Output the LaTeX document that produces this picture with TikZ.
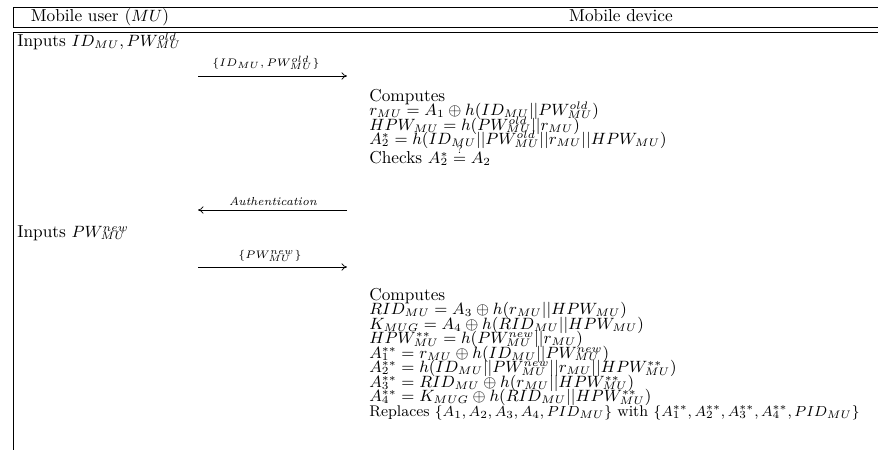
\documentclass[tikz,border=0pt]{standalone}
\usepackage{amsmath}
\usetikzlibrary{positioning,arrows.meta}
\DeclareMathSizes{9.5}{9.5}{6.3}{5}
\DeclareMathSizes{8.5}{8.5}{5.8}{5}
% keep sub- and superscripts close to the baseline
\newcommand\tightscripts{%
  \fontdimen14\textfont2=0.27\fontdimen6\textfont2
  \fontdimen15\textfont2=0.24\fontdimen6\textfont2
  \fontdimen16\textfont2=0.14\fontdimen6\textfont2
  \fontdimen17\textfont2=0.18\fontdimen6\textfont2
  \fontdimen8\textfont3=0.015\fontdimen6\textfont2}
\AtBeginDocument{\everymath\expandafter{\the\everymath\tightscripts}}

\begin{document}
\begin{tikzpicture}
  [
    x=0.55pt, y=-0.55pt,
    font=\fontsize{9.5}{11}\selectfont,
    Head/.style={anchor=base, inner sep=0pt},
    Line/.style={anchor=base west, inner sep=0pt},
    MsgLabel/.style={anchor=base, inner sep=0pt, font=\fontsize{6.4}{8}\selectfont},
    Msg/.style={-{To[length=3pt,width=4pt]}, line width=0.4pt}
  ]
  \useasboundingbox (0,0) rectangle (878,450);

  % Table frame
  \draw (878,7) -- (13,7) -- (13,27) -- (878,27);
  \draw (878,32) -- (13,32) -- (13,450);

  % Header
  \node[Head] (user) at (100,21) {Mobile user ($MU$)};
  \node[Head] (device) at (621,21) {Mobile device};

  % Mobile user side
  \node[Line] (in1) at (17,46) {Inputs $ID_{MU}, PW_{MU}^{old}$};
  \node[Line] (in2) at (17,237) {Inputs $PW_{MU}^{new}$};

  % Messages
  \coordinate (m1s) at (198,76);
  \coordinate (m1e) at (347,76);
  \node[MsgLabel] (l1) at (266,66) {$\{ID_{MU},PW_{MU}^{old}\}$};
  \draw[Msg] (m1s) -- (m1e);

  \coordinate (m2s) at (347,210);
  \coordinate (m2e) at (198,210);
  \node[MsgLabel] (l2) at (273,205) {\textit{Authentication}};
  \draw[Msg] (m2s) -- (m2e);

  \coordinate (m3s) at (198,267);
  \coordinate (m3e) at (347,267);
  \node[MsgLabel] (l3) at (270,258) {$\{PW_{MU}^{new}\}$};
  \draw[Msg] (m3s) -- (m3e);

  % Mobile device side: first check
  \node[Line] (c1) at (369,101) {Computes};
  \node[Line] (c2) at (369,115.5) {$r_{MU} = A_1 \oplus h(ID_{MU}||PW_{MU}^{old})$};
  \node[Line] (c3) at (369,130) {$HPW_{MU} = h(PW_{MU}^{old}||r_{MU})$};
  \node[Line] (c4) at (369,144.5) {$A_2^{*} = h(ID_{MU}||PW_{MU}^{old}||r_{MU}||HPW_{MU})$};
  \node[Line] (c5) at (369,163) {Checks $A_2^{*} \stackrel{?}{=} A_2$};

  % Mobile device side: update
  \node[Line] (u1) at (369,300) {Computes};
  \node[Line] (u2) at (369,314.5) {$RID_{MU} = A_3 \oplus h(r_{MU}||HPW_{MU})$};
  \node[Line] (u3) at (369,329) {$K_{MUG} = A_4 \oplus h(RID_{MU}||HPW_{MU})$};
  \node[Line] (u4) at (369,343.5) {$HPW_{MU}^{**} = h(PW_{MU}^{new}||r_{MU})$};
  \node[Line] (u5) at (369,358) {$A_1^{**} = r_{MU} \oplus h(ID_{MU}||PW_{MU}^{new})$};
  \node[Line] (u6) at (369,372.5) {$A_2^{**} = h(ID_{MU}||PW_{MU}^{new}||r_{MU}||HPW_{MU}^{**})$};
  \node[Line] (u7) at (369,387) {$A_3^{**} = RID_{MU} \oplus h(r_{MU}||HPW_{MU}^{**})$};
  \node[Line] (u8) at (369,401.5) {$A_4^{**} = K_{MUG} \oplus h(RID_{MU}||HPW_{MU}^{**})$};
  \node[Line, font=\fontsize{8.5}{11}\selectfont] (u9) at (369,416) {Replaces $\{A_1, A_2, A_3, A_4, PID_{MU}\}$ with $\{A_1^{**}, A_2^{**}, A_3^{**}, A_4^{**}, PID_{MU}\}$};

\end{tikzpicture}
\end{document}
